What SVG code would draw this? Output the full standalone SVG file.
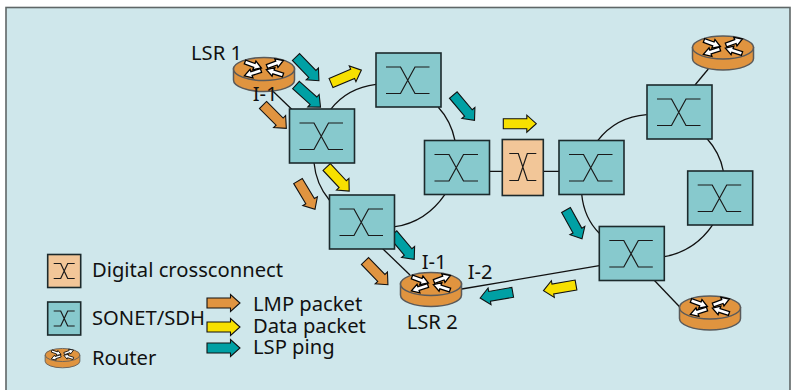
<svg xmlns="http://www.w3.org/2000/svg" width="791" height="390" viewBox="0 0 791 390">
<style>
text{font-family:"Noto Sans","Open Sans","Liberation Sans",sans-serif;font-size:20.2px;fill:#111}
.c{fill:none;stroke:#111;stroke-width:1.3}
.box{stroke:#1c2a2c;stroke-width:1.6}
.t{fill:#87c9cd}
.o{fill:#f2c698}
.x{fill:none;stroke:#1a1a1a;stroke-width:1.2}
.pk{stroke:#111;stroke-width:1.1;stroke-linejoin:miter}
.lmp{fill:#e09440}
.dat{fill:#f7e000}
.lsp{fill:#00a0a4}
.ra{fill:#fff;stroke:#000;stroke-width:1.3}
</style>
<defs>
<polygon id="arr" points="0,-5 23.5,-5 23.5,-8.5 33,0 23.5,8.5 23.5,5 0,5"/>
<g id="xc"><rect class="box" width="65" height="54"/><path class="x" d="M10 14H24.5L39 40.5H53.5M10 40.5H24.5L39 14H53.5"/></g>
<g id="xcO"><rect class="box o" width="41" height="56"/><path class="x" d="M7 14H16L25 41H34M7 41H16L25 14H34"/></g>
<polygon id="ra" points="0,-2 10,-2 10,-4.6 17.5,0 10,4.6 10,2 0,2"/>
<g id="router">
<path d="M-30.5 0V11A30.5 11.5 0 0 0 30.5 11V0Z" fill="#e0943f" stroke="#5a5a5a" stroke-width="1.5"/>
<ellipse rx="30.5" ry="11.5" fill="#e0943f" stroke="#5a5a5a" stroke-width="1.5"/>
<use href="#ra" class="ra" transform="translate(3,-2.5) rotate(-20)"/>
<use href="#ra" class="ra" transform="translate(-3,1.5) rotate(162)"/>
<use href="#ra" class="ra" transform="translate(-19,-7) rotate(20)"/>
<use href="#ra" class="ra" transform="translate(19,6) rotate(198)"/>
</g>
</defs>
<rect width="791" height="390" fill="#fff"/>
<rect x="6" y="7.5" width="784" height="400" fill="#cfe7eb" stroke="#5f6767" stroke-width="1.6"/>
<g id="connectors">
<path class="c" d="M271.7 90L291.7 109.3"/>
<path class="c" d="M330.7 109.3Q347 88 376 84.3"/>
<path class="c" d="M438.3 107.3Q451 121 455 140.7"/>
<path class="c" d="M445 194.3Q426 222 395 226.7"/>
<path class="c" d="M314 162.7Q316 184 329.3 200"/>
<path class="c" d="M382.7 248.7L410 275"/>
<path class="c" d="M489 171.3H503M543 171.3H559"/>
<path class="c" d="M597.7 140.7Q616 117 646.7 114.7"/>
<path class="c" d="M695 85L708.3 69"/>
<path class="c" d="M706.7 138.3Q720 153 723.3 171"/>
<path class="c" d="M713 224.3Q695 251 664.3 256.7"/>
<path class="c" d="M581.7 194.3Q584 218 599.3 233.3"/>
<path class="c" d="M599.3 265.7L461.7 289"/>
<path class="c" d="M654 280L680 307.3"/>
</g>
<g id="packets">
<use href="#arr" class="pk lsp" transform="translate(296,57) rotate(46)"/>
<use href="#arr" class="pk lsp" transform="translate(296,85) rotate(42)"/>
<use href="#arr" class="pk lmp" transform="translate(263,105) rotate(45)"/>
<use href="#arr" class="pk dat" transform="translate(331,83) rotate(-23)"/>
<use href="#arr" class="pk dat" transform="translate(326.7,167) rotate(47)"/>
<use href="#arr" class="pk lmp" transform="translate(298,181) rotate(59)"/>
<use href="#arr" class="pk lsp" transform="translate(393,234) rotate(50)"/>
<use href="#arr" class="pk lmp" transform="translate(365,261) rotate(46)"/>
<use href="#arr" class="pk lsp" transform="translate(512.7,292.3) rotate(170)"/>
<use href="#arr" class="pk dat" transform="translate(576,285) rotate(170)"/>
<use href="#arr" class="pk lsp" transform="translate(566,210) rotate(61)"/>
<use href="#arr" class="pk lsp" transform="translate(453.3,95) rotate(50)"/>
<use href="#arr" class="pk dat" transform="translate(503.3,123.7)"/>
</g>
<g id="sonet-1"><use href="#xc" class="t" x="289.5" y="109"/></g>
<g id="sonet-2"><use href="#xc" class="t" x="376" y="53"/></g>
<g id="sonet-3"><use href="#xc" class="t" x="329.5" y="195"/></g>
<g id="sonet-4"><use href="#xc" class="t" x="424.5" y="140.5"/></g>
<g id="dxc"><use href="#xcO" x="502.3" y="139.5"/></g>
<g id="sonet-5"><use href="#xc" class="t" x="559" y="140.5"/></g>
<g id="sonet-6"><use href="#xc" class="t" x="647" y="85"/></g>
<g id="sonet-7"><use href="#xc" class="t" x="687.7" y="171"/></g>
<g id="sonet-8"><use href="#xc" class="t" x="599.3" y="226.5"/></g>
<g id="lsr1"><use href="#router" x="264" y="69"/><text x="191" y="60">LSR 1</text><text x="252.7" y="100.5">I-1</text></g>
<g id="lsr2"><use href="#router" x="431" y="284"/><text x="421.7" y="269">I-1</text><text x="467.7" y="279">I-2</text><text x="406.7" y="329">LSR 2</text></g>
<g id="router-3"><use href="#router" x="723" y="47.5"/></g>
<g id="router-4"><use href="#router" x="710" y="307.5"/></g>
<g id="legend">
<g transform="translate(47.7,254.5)"><rect class="box o" width="33" height="33"/><path class="x" d="M6 9H13L20 24H27M6 24H13L20 9H27"/></g>
<g transform="translate(47.7,302)"><rect class="box t" width="33" height="33"/><path class="x" d="M6 9H13L20 24H27M6 24H13L20 9H27"/></g>
<use href="#router" transform="translate(62.5,355) scale(.57)"/>
<text x="92" y="277">Digital crossconnect</text>
<text x="92" y="325">SONET/SDH</text>
<text x="92" y="365">Router</text>
<use href="#arr" class="pk lmp" transform="translate(207,303)"/>
<use href="#arr" class="pk dat" transform="translate(207,327)"/>
<use href="#arr" class="pk lsp" transform="translate(207,348)"/>
<text x="253" y="311">LMP packet</text>
<text x="253" y="333">Data packet</text>
<text x="253" y="354">LSP ping</text>
</g>
</svg>
